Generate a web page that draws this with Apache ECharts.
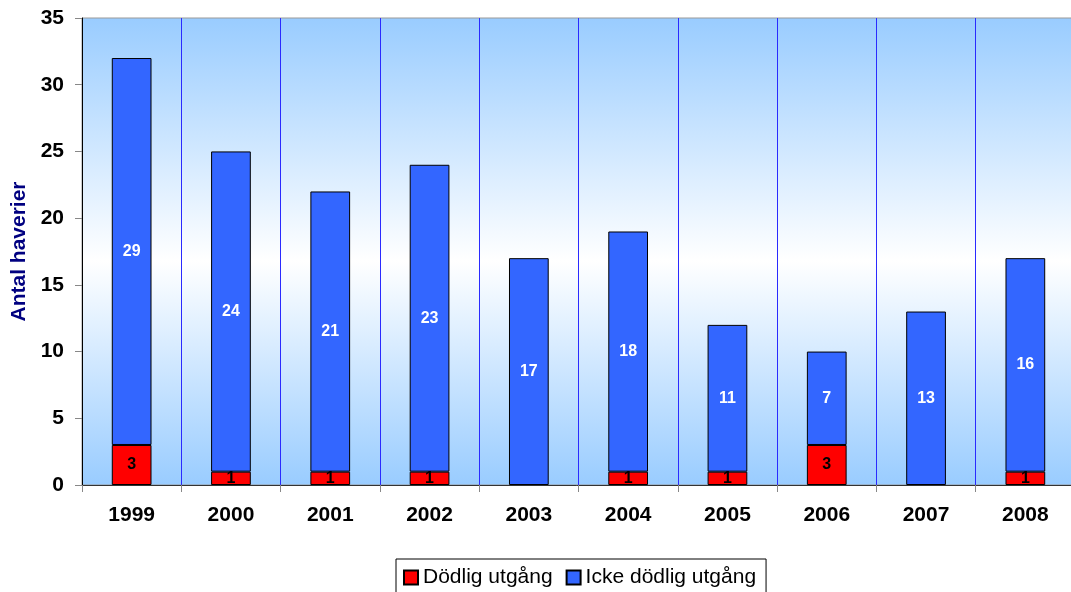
<!DOCTYPE html>
<html>
<head>
<meta charset="utf-8">
<script src="https://cdn.jsdelivr.net/npm/echarts@6/dist/echarts.min.js"></script>
<style>html,body{margin:0;padding:0;background:#fff;}#c{width:1071px;height:592px;}</style>
</head>
<body>
<div id="c"></div>
<script>
var years = ['1999','2000','2001','2002','2003','2004','2005','2006','2007','2008'];
var fatal = [3, 1, 1, 1, 0, 1, 1, 3, 0, 1];
var nonFatal = [29, 24, 21, 23, 17, 18, 11, 7, 13, 16];
var yTicks = [0, 5, 10, 15, 20, 25, 30, 35];

var chart = echarts.init(document.getElementById('c'));
var font = 'Arial, "Liberation Sans", sans-serif';
chart.setOption({
  animation: false,
  backgroundColor: '#ffffff',
  grid: {
    left: 82, top: 18, bottom: 107, right: -4,
    outerBoundsMode: 'none',
    containLabel: false,
    show: true,
    borderColor: '#999999', borderWidth: 1,
    backgroundColor: {
      type: 'linear', x: 0, y: 0, x2: 0, y2: 1,
      colorStops: [
        {offset: 0, color: '#99ccff'},
        {offset: 0.52, color: '#ffffff'},
        {offset: 1, color: '#99ccff'}
      ]
    }
  },
  legend: {
    data: ['Dödlig utgång', 'Icke dödlig utgång'],
    left: 396, top: 559,
    padding: [8, 10, 12, 7],
    icon: 'rect',
    itemWidth: 14, itemHeight: 14, itemGap: 13,
    borderColor: '#000', borderWidth: 1,
    textStyle: {fontFamily: font, fontSize: 21, color: '#000'}
  },
  xAxis: {
    type: 'category',
    data: years,
    axisLine: {lineStyle: {color: '#333', width: 1}},
    axisTick: {show: true, length: 7, lineStyle: {color: '#888'}},
    axisLabel: {fontFamily: font, fontSize: 21, fontWeight: 'bold', color: '#000', margin: 20},
    splitLine: {show: true, lineStyle: {color: '#2a2aff', width: 1}}
  },
  yAxis: {
    type: 'value',
    min: yTicks[0], max: yTicks[yTicks.length - 1], interval: 5,
    name: 'Antal haverier',
    nameLocation: 'middle', nameRotate: 90, nameGap: 52,
    nameTextStyle: {fontFamily: font, fontSize: 21, fontWeight: 'bold', color: '#000080'},
    axisLine: {show: true, lineStyle: {color: '#000', width: 1}},
    axisTick: {show: true, length: 7, lineStyle: {color: '#888'}},
    axisLabel: {fontFamily: font, fontSize: 21, fontWeight: 'bold', color: '#000', margin: 18},
    splitLine: {show: false}
  },
  series: [
    {
      name: 'Dödlig utgång', type: 'bar', stack: 't', barWidth: '40%',
      data: fatal.map(function(v){ return v === 0 ? null : v; }),
      itemStyle: {color: '#ff0000', borderColor: '#000', borderWidth: 1},
      label: {show: true, position: 'inside', color: '#000', fontFamily: font, fontSize: 16, fontWeight: 'bold'}
    },
    {
      name: 'Icke dödlig utgång', type: 'bar', stack: 't', barWidth: '40%',
      data: nonFatal,
      itemStyle: {color: '#3366ff', borderColor: '#000', borderWidth: 1},
      label: {show: true, position: 'inside', color: '#fff', fontFamily: font, fontSize: 16, fontWeight: 'bold'}
    }
  ]
});
</script>
</body>
</html>
